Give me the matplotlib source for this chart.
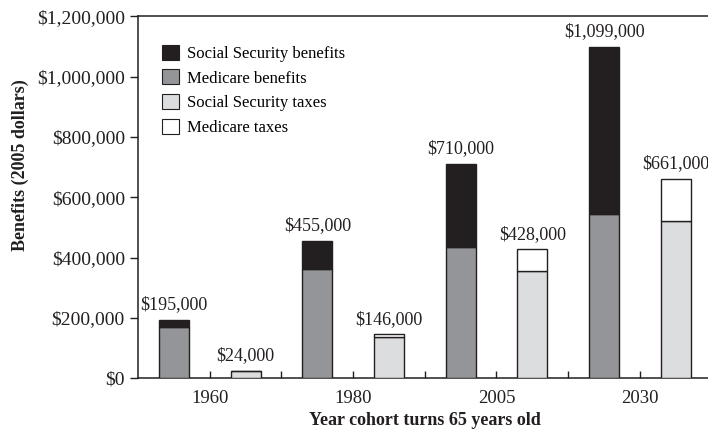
import numpy as np
import matplotlib
matplotlib.use('Agg')
import matplotlib.pyplot as plt
import matplotlib.ticker as ticker
from matplotlib.patches import Patch

years = ['1960', '1980', '2005', '2030']
medicare_benefits = [170000, 363000, 435000, 545000]
ss_benefits = [25000, 92000, 275000, 554000]
ss_taxes = [24000, 137000, 356000, 522000]
medicare_taxes = [0, 9000, 72000, 139000]
benefit_labels = ['$195,000', '$455,000', '$710,000', '$1,099,000']
tax_labels = ['$24,000', '$146,000', '$428,000', '$661,000']

C_SSB = '#231f20'
C_MEDB = '#939598'
C_SST = '#dcdddf'
C_MEDT = '#ffffff'

plt.rcParams['font.family'] = ['Liberation Serif', 'DejaVu Serif']

fig = plt.figure(figsize=(7.08, 4.30), dpi=100)
ax = fig.add_axes([0.195, 0.12, 0.81, 0.842])

x = np.arange(len(years))
w = 0.21
off = 0.25
kw = dict(width=w, edgecolor='#231f20', linewidth=1.0, zorder=3)

ax.bar(x - off, medicare_benefits, color=C_MEDB, **kw)
ax.bar(x - off, ss_benefits, bottom=medicare_benefits, color=C_SSB, **kw)
ax.bar(x + off, ss_taxes, color=C_SST, **kw)
ax.bar(x + off, medicare_taxes, bottom=ss_taxes, color=C_MEDT, **kw)

btot = np.array(medicare_benefits) + np.array(ss_benefits)
ttot = np.array(ss_taxes) + np.array(medicare_taxes)
for i in range(len(years)):
    ax.text(x[i] - off, btot[i] + 22000, benefit_labels[i], ha='center',
            va='bottom', fontsize=13, color='#231f20')
    ax.text(x[i] + off, ttot[i] + 22000, tax_labels[i], ha='center',
            va='bottom', fontsize=13, color='#231f20')

ax.set_xlim(-0.5, 3.5)
ax.set_ylim(0, 1200000)
ax.yaxis.set_major_locator(ticker.MultipleLocator(200000))
ax.yaxis.set_major_formatter(ticker.FuncFormatter(lambda v, p: '${:,.0f}'.format(v)))
ax.set_xticks(x)
ax.set_xticklabels(years)
ax.xaxis.set_minor_locator(ticker.FixedLocator(x + 0.5))
ax.tick_params(axis='x', which='both', direction='in', length=5, width=1,
               labelsize=13.5, pad=8, colors='#231f20')
ax.tick_params(axis='y', direction='out', length=6, width=1, labelsize=14,
               colors='#231f20')
ax.spines['right'].set_visible(False)
for s in ['left', 'top', 'bottom']:
    ax.spines[s].set_linewidth(1.1)
    ax.spines[s].set_color('#231f20')

ax.set_ylabel('Benefits (2005 dollars)', fontsize=13, fontweight='bold',
              color='#231f20', va='center')
ax.yaxis.set_label_coords(-0.205, 0.588)
ax.set_xlabel('Year cohort turns 65 years old', fontsize=13, fontweight='bold',
              color='#231f20', va='center')
ax.xaxis.set_label_coords(0.5, -0.115)

handles = [Patch(facecolor=c, edgecolor='#231f20', linewidth=0.8)
           for c in [C_SSB, C_MEDB, C_SST, C_MEDT]]
names = ['Social Security benefits', 'Medicare benefits',
         'Social Security taxes', 'Medicare taxes']
ax.legend(handles, names, loc='upper left', bbox_to_anchor=(0.03, 0.94),
          frameon=False, fontsize=12, handlelength=1.0, handleheight=1.0,
          handletextpad=0.5, labelspacing=0.45, borderaxespad=0)

fig.savefig('out.png', dpi=100)
